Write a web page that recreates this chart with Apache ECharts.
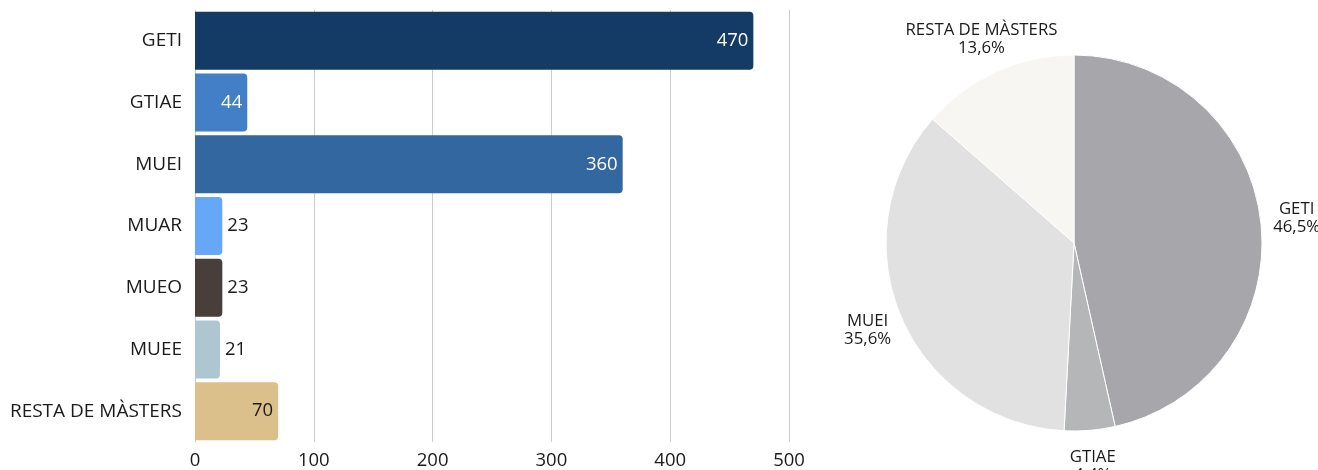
<!DOCTYPE html>
<html><head><meta charset="utf-8">
<script src="https://cdn.jsdelivr.net/npm/echarts@6/dist/echarts.min.js"></script>
<style>html,body{margin:0;padding:0;background:#fff}#c{width:1318px;height:470px}</style>
</head><body><div id="c"></div>
<script>
const categories = ['GETI', 'GTIAE', 'MUEI', 'MUAR', 'MUEO', 'MUEE', 'RESTA DE MÀSTERS'];
const values = [470, 44, 360, 23, 23, 21, 70];
const barColors = ['#143a66', '#427fc6', '#33679f', '#66a7f8', '#483f3c', '#adc6cf', '#dbc08b'];
const labelInside = [true, true, true, false, false, false, true];
const labelColors = ['#ffffff', '#ffffff', '#ffffff', '#1a1a1a', '#1a1a1a', '#1a1a1a', '#1a1a1a'];
const xTicks = [0, 100, 200, 300, 400, 500];

const pieNames = ['GETI', 'GTIAE', 'MUEI', 'RESTA DE MÀSTERS'];
const pieValues = [470, 44, 360, 137];
const pieColors = ['#a7a6aa', '#b5b6b8', '#e1e1e1', '#f7f6f2'];

const FONT = '"Open Sans", "Noto Sans", sans-serif';
const pieTotal = pieValues.reduce((a, b) => a + b, 0);

const barData = values.map((v, i) => ({
  value: v,
  itemStyle: { color: barColors[i] },
  label: {
    position: labelInside[i] ? 'insideRight' : 'right',
    color: labelColors[i]
  }
}));
const pieData = pieNames.map((n, i) => ({ name: n, value: pieValues[i], itemStyle: { color: pieColors[i] } }));
const pieLabelData = pieNames.map((n, i) => ({ name: n, value: pieValues[i] }));

const chart = echarts.init(document.getElementById('c'), null, { renderer: 'canvas' });
chart.setOption({
  animation: false,
  backgroundColor: '#ffffff',
  textStyle: { fontFamily: FONT },
  grid: { left: 195, right: 529, top: 10, bottom: 23, containLabel: false },
  xAxis: {
    type: 'value',
    min: xTicks[0],
    max: xTicks[xTicks.length - 1],
    interval: xTicks[1] - xTicks[0],
    axisLine: { show: false },
    axisTick: { show: false },
    splitLine: { show: true, lineStyle: { color: '#cccccc', width: 1 } },
    axisLabel: { fontSize: 18.5, color: '#1a1a1a', fontFamily: FONT, margin: 9 }
  },
  yAxis: {
    type: 'category',
    inverse: true,
    data: categories,
    axisLine: { show: true, lineStyle: { color: '#cccccc' } },
    axisTick: { show: false },
    axisLabel: { fontSize: 19, color: '#1a1a1a', fontFamily: FONT, margin: 13, padding: [8, 0, 0, 0] }
  },
  series: [
    {
      type: 'bar',
      data: barData,
      barCategoryGap: '6%',
      itemStyle: { borderRadius: [0, 4, 4, 0] },
      label: { show: true, fontSize: 18.5, fontFamily: FONT, distance: 5, padding: [2, 0, 0, 0] },
      silent: true
    },
    {
      type: 'pie',
      center: [1074, 243],
      radius: 188,
      startAngle: 90,
      clockwise: true,
      data: pieData,
      label: { show: false },
      labelLine: { show: false },
      itemStyle: { borderColor: '#ffffff', borderWidth: 1 },
      silent: true
    },
    {
      type: 'pie',
      center: [1074, 243],
      radius: [210, 232],
      startAngle: 90,
      clockwise: true,
      data: pieLabelData,
      itemStyle: { color: 'rgba(0,0,0,0)' },
      label: {
        show: true,
        position: 'inside',
        rotate: 0,
        fontSize: 16.8,
        lineHeight: 18,
        color: '#1a1a1a',
        fontFamily: FONT,
        align: 'center',
        formatter: p => p.name + '\n' + (p.value / pieTotal * 100).toFixed(1).replace('.', ',') + '%'
      },
      labelLine: { show: false },
      silent: true
    }
  ]
});
</script></body></html>
